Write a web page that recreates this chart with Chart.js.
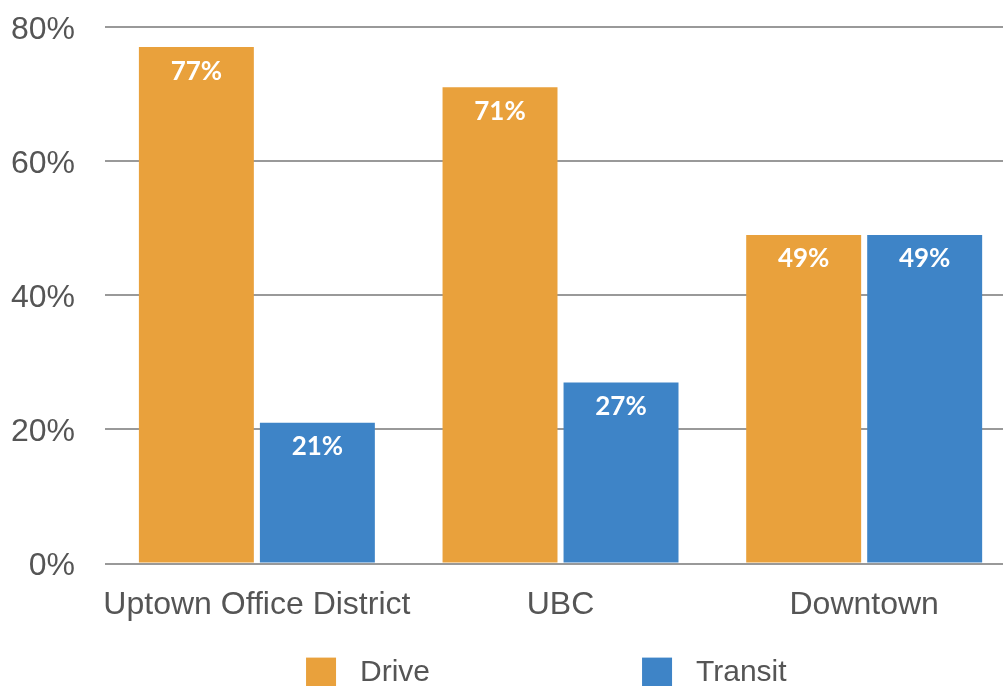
<!DOCTYPE html>
<html>
<head>
<meta charset="utf-8">
<script src="https://cdn.jsdelivr.net/npm/chart.js@4.4.0/dist/chart.umd.min.js"></script>
<style>
  html, body { margin: 0; padding: 0; background: #fff; overflow: hidden; }
  #wrap { width: 1016px; height: 702px; position: relative; }
</style>
</head>
<body>
<div id="wrap"><canvas id="chartModes"></canvas></div>
<script>
/* ---- дані ---- */
const categories = ["Uptown Office District", "UBC", "Downtown"];
const seriesNames = ["Drive", "Transit"];
const driveValues = [77, 71, 49];
const transitValues = [21, 27, 49];
const yTicks = [0, 20, 40, 60, 80];
const seriesColors = ["#E9A13C", "#3E84C7"];

const AXIS_FONT = "'Liberation Sans', Arial, sans-serif";
const LABEL_FONT = "Lato, 'Open Sans', sans-serif";

/* ---- підписи значень всередині стовпців ---- */
const valueLabels = {
    id: "valueLabels",
    afterDatasetsDraw(chart) {
        const ctx = chart.ctx;
        ctx.save();
        ctx.fillStyle = "#ffffff";
        ctx.font = "bold 26px " + LABEL_FONT;
        ctx.textAlign = "center";
        ctx.textBaseline = "middle";
        chart.data.datasets.forEach((ds, i) => {
            const meta = chart.getDatasetMeta(i);
            meta.data.forEach((bar, j) => {
                ctx.fillText(ds.data[j] + "%", bar.x, bar.y + 24);
            });
        });
        ctx.restore();
    }
};

/* ---- легенда знизу (широкі проміжки, як в оригіналі) ---- */
const bottomLegend = {
    id: "bottomLegend",
    afterDraw(chart) {
        const ctx = chart.ctx;
        const area = chart.chartArea;
        const box = 30;
        const textGap = 24;
        const itemGap = 212;
        let x = area.left + 201;
        const yMid = area.bottom + 109;
        ctx.save();
        ctx.font = "30px " + AXIS_FONT;
        ctx.textBaseline = "middle";
        ctx.textAlign = "left";
        chart.data.datasets.forEach(ds => {
            ctx.fillStyle = ds.backgroundColor;
            ctx.fillRect(x, yMid - box / 2, box, box);
            ctx.fillStyle = "#555555";
            ctx.fillText(ds.label, x + box + textGap, yMid);
            x += box + textGap + ctx.measureText(ds.label).width + itemGap;
        });
        ctx.restore();
    }
};

new Chart(document.getElementById("chartModes"), {
    type: "bar",
    data: {
        labels: categories,
        datasets: [
            { label: seriesNames[0], data: driveValues, backgroundColor: seriesColors[0] },
            { label: seriesNames[1], data: transitValues, backgroundColor: seriesColors[1] }
        ]
    },
    options: {
        responsive: true,
        maintainAspectRatio: false,
        animation: false,
        datasets: {
            bar: { categoryPercentage: 0.797, barPercentage: 0.95 }
        },
        layout: { padding: { top: 27, left: -19, right: 0, bottom: 64 } },
        plugins: {
            legend: { display: false },
            tooltip: { enabled: false }
        },
        scales: {
            x: {
                grid: { display: false },
                border: { display: false },
                ticks: {
                    color: "#555555",
                    font: { family: AXIS_FONT, size: 32 },
                    padding: 14,
                    maxRotation: 0,
                    autoSkip: false
                }
            },
            y: {
                min: yTicks[0],
                max: yTicks[yTicks.length - 1],
                afterBuildTicks(scale) {
                    scale.ticks = yTicks.map(v => ({ value: v }));
                },
                // прибираємо зайвий верхній відступ від padding підписів
                afterFit(scale) {
                    scale.paddingTop = 0;
                },
                border: { display: false },
                grid: { color: "#999999", lineWidth: 2, drawTicks: false },
                ticks: {
                    color: "#555555",
                    font: { family: AXIS_FONT, size: 32 },
                    padding: 30,
                    labelOffset: 3,
                    callback: v => v + "%"
                }
            }
        }
    },
    plugins: [valueLabels, bottomLegend]
});
</script>
</body>
</html>
